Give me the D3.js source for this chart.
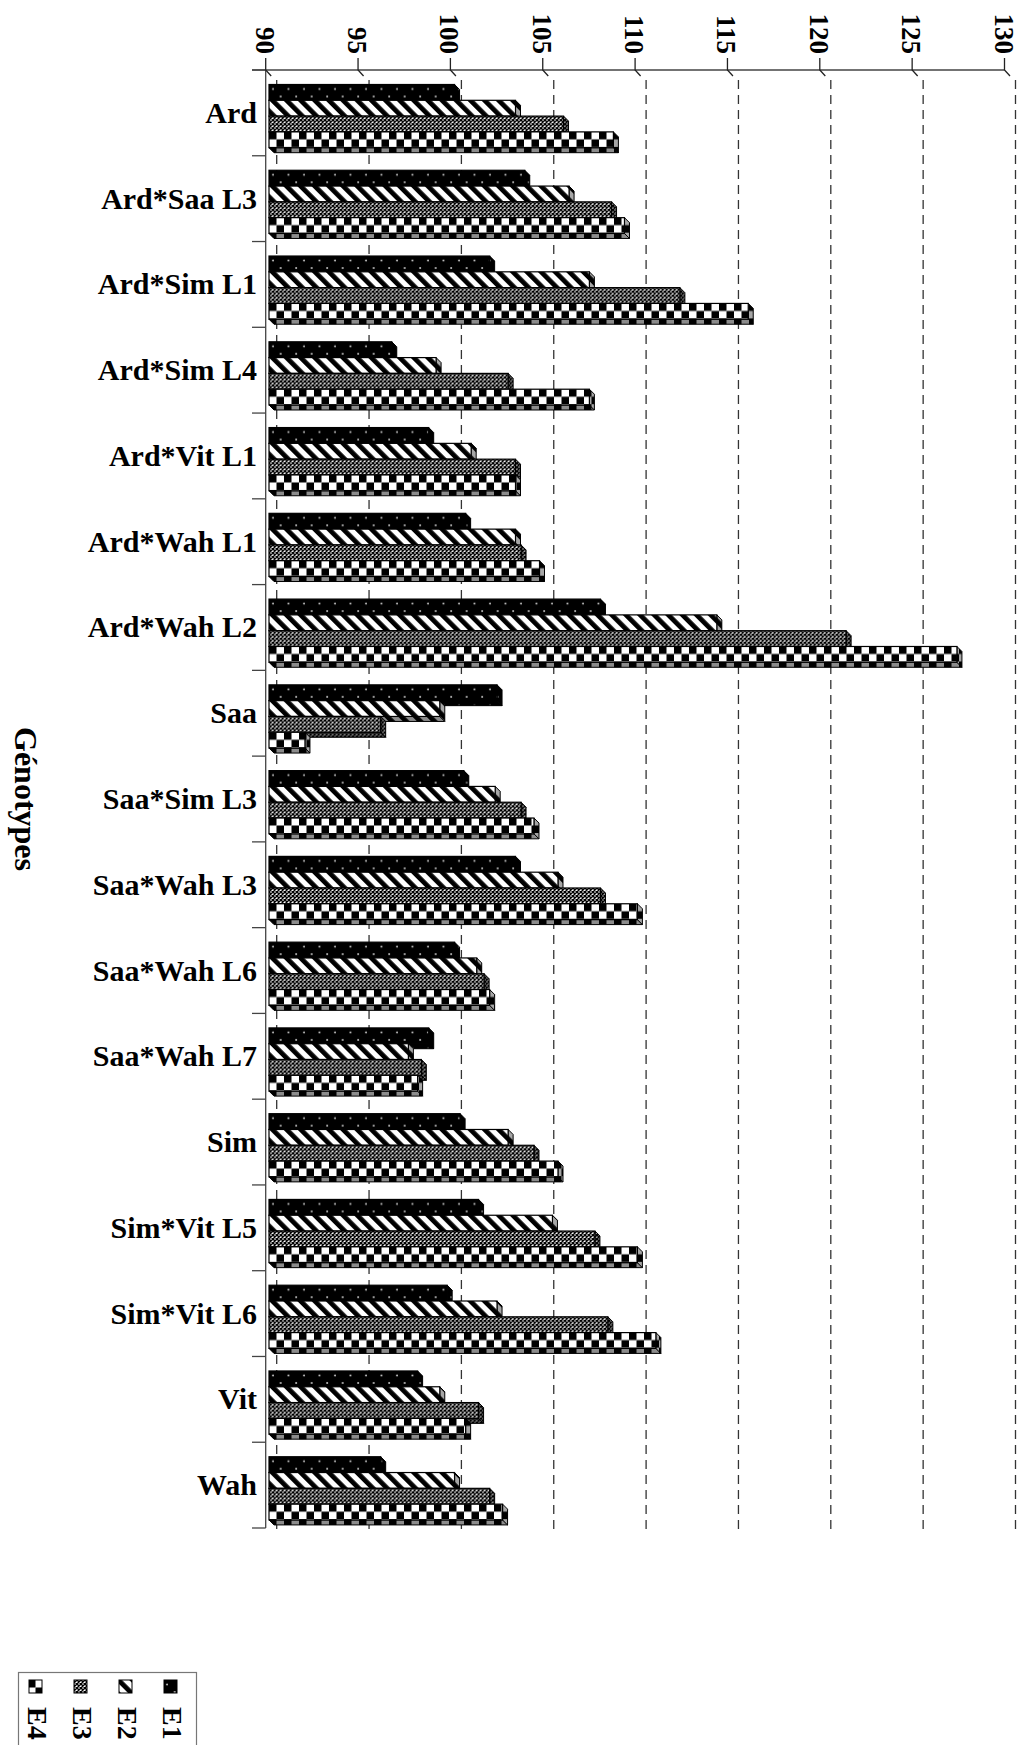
<!DOCTYPE html>
<html>
<head>
<meta charset="utf-8">
<script src="https://d3js.org/d3.v7.min.js"></script>
<style>
  body { margin: 0; background: #fff; }
  text { font-family: "Liberation Serif", "Times New Roman", serif; font-weight: bold; fill: #000; }
</style>
</head>
<body>
<svg id="chart" width="1019" height="1745"></svg>
<script>
var genotypes = ["Ard", "Ard*Saa L3", "Ard*Sim L1", "Ard*Sim L4", "Ard*Vit L1", "Ard*Wah L1",
    "Ard*Wah L2", "Saa", "Saa*Sim L3", "Saa*Wah L3", "Saa*Wah L6", "Saa*Wah L7", "Sim",
    "Sim*Vit L5", "Sim*Vit L6", "Vit", "Wah"];
var seriesNames = ["E1", "E2", "E3", "E4"];

var e1 = [99.9, 103.7, 101.8, 96.5, 98.5, 100.5, 107.8, 102.2, 100.4, 103.2, 99.9, 98.5, 100.2, 101.2, 99.5, 97.9, 95.9];
var e2 = [103.2, 106.1, 107.2, 98.9, 100.8, 103.2, 114.1, 99.1, 102.1, 105.5, 101.1, 97.4, 102.8, 105.2, 102.2, 99.1, 99.9];
var e3 = [105.8, 108.4, 112.1, 102.8, 103.2, 103.5, 121.1, 95.9, 103.5, 107.8, 101.5, 98.1, 104.2, 107.5, 108.2, 101.2, 101.8];
var e4 = [108.5, 109.1, 115.8, 107.2, 103.2, 104.5, 127.1, 91.8, 104.2, 109.8, 101.8, 97.9, 105.5, 109.8, 110.8, 100.5, 102.5];
var series = [e1, e2, e3, e4];

var tickValues = [90, 95, 100, 105, 110, 115, 120, 125, 130];

var svg = d3.select("#chart");

// front plane (axis ticks) and back wall (gridlines) are offset: 3D look
var xTick = d3.scaleLinear().domain([90, 130]).range([265.7, 1004.5]);
var xGrid = d3.scaleLinear().domain([90, 130]).range([276.7, 1015.5]);
var y = d3.scaleBand().domain(genotypes).range([70, 1528]).paddingInner(0).paddingOuter(0);

var barLeft = 269, barOffset = 14.5, barH = 15.8, depth = 5;

// ---- patterns ----
var defs = svg.append("defs");

var p1 = defs.append("pattern").attr("id", "pE1").attr("patternUnits", "userSpaceOnUse")
    .attr("width", 15.5).attr("height", 16);
p1.append("rect").attr("width", 15.5).attr("height", 16).attr("fill", "#000");
p1.append("circle").attr("cx", 4).attr("cy", 4.5).attr("r", 0.9).attr("fill", "#ddd");
p1.append("circle").attr("cx", 11.7).attr("cy", 12).attr("r", 0.9).attr("fill", "#ddd");

var p2 = defs.append("pattern").attr("id", "pE2").attr("patternUnits", "userSpaceOnUse")
    .attr("width", 10).attr("height", 10).attr("patternTransform", "rotate(-45)");
p2.append("rect").attr("width", 10).attr("height", 10).attr("fill", "#fff");
p2.append("rect").attr("width", 4.8).attr("height", 10).attr("fill", "#000");

var p3 = defs.append("pattern").attr("id", "pE3").attr("patternUnits", "userSpaceOnUse")
    .attr("width", 4).attr("height", 4);
p3.append("rect").attr("width", 4).attr("height", 4).attr("fill", "#fff");
p3.append("path").attr("d", "M0,0L4,4M4,0L0,4").attr("stroke", "#000").attr("stroke-width", 1.4);

var p4 = defs.append("pattern").attr("id", "pE4").attr("patternUnits", "userSpaceOnUse")
    .attr("width", 15).attr("height", 15);
p4.append("rect").attr("width", 15).attr("height", 15).attr("fill", "#fff");
p4.append("rect").attr("width", 7.5).attr("height", 7.5).attr("fill", "#000");
p4.append("rect").attr("x", 7.5).attr("y", 7.5).attr("width", 7.5).attr("height", 7.5).attr("fill", "#000");

var patternIds = ["pE1", "pE2", "pE3", "pE4"];

// ---- gridlines (back wall) ----
svg.append("g").selectAll("line")
    .data(tickValues)
    .enter().append("line")
    .attr("x1", function(d) { return xGrid(d); })
    .attr("x2", function(d) { return xGrid(d); })
    .attr("y1", 80)
    .attr("y2", 1534)
    .attr("stroke", "#333")
    .attr("stroke-width", 1.3)
    .attr("stroke-dasharray", "9,6");

// ---- axes ----
var axisG = svg.append("g").attr("stroke", "#444").attr("stroke-width", 1.3).attr("fill", "none");
axisG.append("line").attr("x1", 252).attr("x2", xTick(130)).attr("y1", 70).attr("y2", 70);
axisG.append("line").attr("x1", 265.7).attr("x2", 265.7).attr("y1", 70).attr("y2", 1528);

var bounds = genotypes.map(function(g) { return y(g); }).concat([y.range()[1]]);
axisG.selectAll(".ctick")
    .data(bounds)
    .enter().append("line")
    .attr("x1", 252).attr("x2", 265.7)
    .attr("y1", function(d) { return d; })
    .attr("y2", function(d) { return d; });

axisG.selectAll(".vtick")
    .data(tickValues)
    .enter().append("path")
    .attr("stroke", "#222")
    .attr("d", function(d) {
        var x = xTick(d);
        return "M" + x + ",58L" + x + ",70L" + (x + 5.5) + ",76";
    });

svg.append("g").selectAll("text")
    .data(tickValues)
    .enter().append("text")
    .attr("transform", function(d) { return "translate(" + (xTick(d) - 10) + ",54) rotate(90)"; })
    .attr("text-anchor", "end")
    .style("font-size", "27px")
    .text(function(d) { return d; });

// ---- bars ----
var barData = [];
genotypes.forEach(function(g, gi) {
    series.forEach(function(s, si) {
        barData.push({ cat: g, s: si, value: s[gi] });
    });
});

var bars = svg.append("g").selectAll("g")
    .data(barData)
    .enter().append("g")
    .attr("transform", function(d) {
        return "translate(" + barLeft + "," + (y(d.cat) + barOffset + d.s * barH) + ")";
    });

function barW(d) { return Math.max(1, xGrid(d.value) - depth - barLeft); }

function bottomFace(d) {
    var w = barW(d);
    return "M0," + barH + "L" + w + "," + barH + "L" + (w + depth) + "," + (barH + depth) +
        "L" + depth + "," + (barH + depth) + "Z";
}
function sideFace(d) {
    var w = barW(d);
    return "M" + w + ",0L" + (w + depth) + "," + depth + "L" + (w + depth) + "," + (barH + depth) +
        "L" + w + "," + barH + "Z";
}

bars.append("path")
    .attr("d", bottomFace)
    .attr("fill", function(d) { return "url(#" + patternIds[d.s] + ")"; })
    .attr("stroke", "#000").attr("stroke-width", 1);
bars.append("path")
    .attr("d", bottomFace)
    .attr("fill", "#000").attr("fill-opacity", 0.45);

bars.append("path")
    .attr("d", sideFace)
    .attr("fill", function(d) { return "url(#" + patternIds[d.s] + ")"; })
    .attr("stroke", "#000").attr("stroke-width", 1);
bars.append("path")
    .attr("d", sideFace)
    .attr("fill", "#000").attr("fill-opacity", 0.35);

// front face
bars.append("rect")
    .attr("width", barW)
    .attr("height", barH)
    .attr("fill", function(d) { return "url(#" + patternIds[d.s] + ")"; })
    .attr("stroke", "#000").attr("stroke-width", 1.2);

// ---- category labels ----
svg.append("g").selectAll("text")
    .data(genotypes)
    .enter().append("text")
    .attr("x", 257)
    .attr("y", function(d) { return y(d) + y.bandwidth() / 2 + 10; })
    .attr("text-anchor", "end")
    .style("font-size", "30px")
    .text(function(d) { return d; });

svg.append("text")
    .attr("transform", "translate(15," + ((70 + 1528) / 2) + ") rotate(90)")
    .attr("text-anchor", "middle")
    .style("font-size", "32px")
    .text("Génotypes");

// ---- legend ----
var legend = svg.append("g");
legend.append("rect")
    .attr("x", 18.5).attr("y", 1672.5).attr("width", 178).attr("height", 120)
    .attr("fill", "#fff").attr("stroke", "#777").attr("stroke-width", 1.2);

var legendOrder = [3, 2, 1, 0];
var legendX = d3.scalePoint().domain(legendOrder).range([28, 163]);

var items = legend.selectAll(".item")
    .data(legendOrder)
    .enter().append("g")
    .attr("transform", function(d) { return "translate(" + legendX(d) + ",0)"; });

items.append("rect")
    .attr("x", 1).attr("y", 1680).attr("width", 13).attr("height", 13)
    .attr("fill", function(d) { return "url(#" + patternIds[d] + ")"; })
    .attr("stroke", "#000").attr("stroke-width", 1);

items.append("text")
    .attr("transform", "translate(0,1707) rotate(90)")
    .style("font-size", "28px")
    .text(function(d) { return seriesNames[d]; });
</script>
</body>
</html>
